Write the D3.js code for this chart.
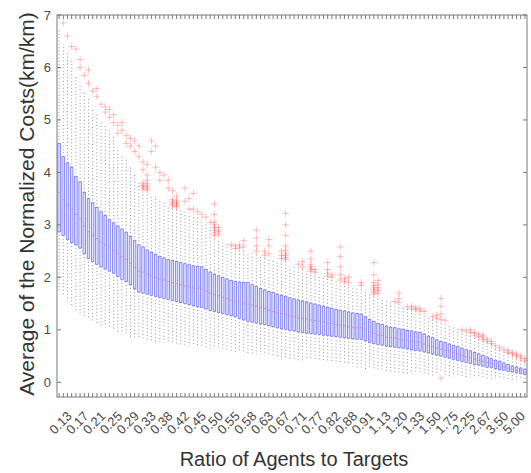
<!DOCTYPE html>
<html>
<head>
<meta charset="utf-8">
<script src="https://cdn.jsdelivr.net/npm/d3@7.9.0/dist/d3.min.js"></script>
<style>
  body { margin: 0; background: #fff; }
  svg { display: block; font-family: "Liberation Sans", Arial, sans-serif; }
</style>
</head>
<body>
<svg id="chart"></svg>
<script>
// tick labels shown under every 4th box
const ratioLabels = ["0.13","0.17","0.21","0.25","0.29","0.33","0.38","0.42","0.45","0.50",
  "0.55","0.58","0.63","0.67","0.71","0.77","0.82","0.88","0.91","1.13",
  "1.20","1.33","1.50","1.75","2.25","2.67","3.50","5.00"];
const yTicks = [0, 1, 2, 3, 4, 5, 6, 7];

// box statistics, one value per group (112 groups)
const q1 = [2.87,2.80,2.72,2.66,2.62,2.56,2.45,2.36,2.30,2.25,2.20,2.16,2.12,2.08,2.02,1.96,
  1.92,1.86,1.78,1.72,1.70,1.68,1.66,1.64,1.62,1.60,1.58,1.56,1.54,1.52,1.50,1.48,
  1.46,1.44,1.43,1.40,1.37,1.35,1.33,1.31,1.29,1.27,1.25,1.22,1.19,1.16,1.15,1.13,
  1.11,1.10,1.08,1.06,1.04,1.02,1.01,0.99,0.98,0.96,0.95,0.94,0.93,0.92,0.91,0.90,
  0.89,0.88,0.87,0.86,0.85,0.84,0.83,0.82,0.82,0.79,0.76,0.74,0.72,0.71,0.69,0.68,
  0.67,0.66,0.65,0.64,0.62,0.61,0.60,0.58,0.56,0.54,0.52,0.50,0.48,0.46,0.44,0.42,
  0.40,0.38,0.36,0.34,0.33,0.31,0.29,0.28,0.26,0.24,0.23,0.21,0.20,0.18,0.17,0.15];
const median = [3.62,3.48,3.38,3.30,3.20,3.12,2.98,2.87,2.80,2.74,2.67,2.62,2.56,2.51,2.45,2.39,
  2.34,2.27,2.19,2.12,2.10,2.06,2.03,2.00,1.97,1.95,1.92,1.90,1.88,1.86,1.84,1.82,
  1.80,1.79,1.78,1.74,1.70,1.67,1.65,1.62,1.60,1.57,1.55,1.53,1.51,1.49,1.47,1.45,
  1.42,1.40,1.37,1.35,1.33,1.31,1.29,1.27,1.25,1.23,1.22,1.21,1.19,1.18,1.16,1.15,
  1.13,1.12,1.10,1.09,1.08,1.06,1.05,1.04,1.04,1.00,0.96,0.93,0.90,0.89,0.86,0.85,
  0.84,0.82,0.81,0.80,0.78,0.77,0.76,0.73,0.70,0.68,0.65,0.63,0.61,0.58,0.56,0.54,
  0.51,0.49,0.47,0.44,0.42,0.40,0.38,0.36,0.33,0.31,0.29,0.27,0.25,0.23,0.22,0.19];
const q3 = [4.55,4.30,4.18,4.10,3.92,3.82,3.62,3.50,3.42,3.33,3.25,3.18,3.10,3.04,2.98,2.92,
  2.86,2.78,2.70,2.62,2.58,2.52,2.48,2.44,2.40,2.37,2.34,2.32,2.30,2.28,2.26,2.24,
  2.22,2.21,2.20,2.15,2.10,2.06,2.03,2.00,1.97,1.94,1.92,1.91,1.90,1.90,1.86,1.83,
  1.79,1.76,1.73,1.71,1.68,1.66,1.64,1.61,1.59,1.57,1.55,1.53,1.51,1.49,1.47,1.45,
  1.43,1.41,1.39,1.37,1.36,1.34,1.32,1.31,1.30,1.25,1.20,1.16,1.12,1.10,1.07,1.05,
  1.04,1.02,1.01,0.99,0.98,0.96,0.95,0.92,0.88,0.85,0.81,0.78,0.76,0.73,0.70,0.68,
  0.65,0.62,0.60,0.57,0.54,0.51,0.48,0.45,0.42,0.40,0.37,0.34,0.31,0.29,0.27,0.25];
const whiskerHigh = [6.75,6.45,6.30,6.15,5.85,5.70,5.55,5.40,5.20,5.10,5.00,4.90,4.80,4.72,4.45,4.35,
  4.25,4.10,3.95,3.80,3.62,3.60,3.58,3.55,3.50,3.45,3.38,3.32,3.30,3.28,3.25,3.22,
  3.20,3.17,3.12,3.05,2.95,2.75,2.74,2.72,2.68,2.60,2.50,2.50,2.50,2.48,2.46,2.44,
  2.42,2.38,2.36,2.34,2.32,2.30,2.30,2.25,2.22,2.19,2.15,2.12,2.08,2.06,2.04,2.02,
  1.98,1.96,1.94,1.90,1.88,1.86,1.84,1.82,1.80,1.75,1.70,1.65,1.62,1.58,1.55,1.52,
  1.50,1.48,1.46,1.42,1.38,1.36,1.33,1.30,1.26,1.22,1.18,1.16,1.12,1.08,1.05,1.02,
  0.98,0.95,0.92,0.88,0.84,0.80,0.76,0.72,0.68,0.64,0.60,0.56,0.52,0.48,0.44,0.40];
const whiskerLow = [1.72,1.65,1.55,1.45,1.35,1.28,1.25,1.22,1.18,1.12,1.08,1.05,1.02,1.00,0.95,0.92,
  0.88,0.86,0.84,0.82,0.82,0.80,0.79,0.78,0.76,0.75,0.74,0.72,0.72,0.70,0.70,0.69,
  0.68,0.67,0.66,0.65,0.64,0.63,0.62,0.61,0.60,0.59,0.58,0.57,0.56,0.55,0.54,0.53,
  0.52,0.51,0.50,0.49,0.48,0.47,0.46,0.45,0.44,0.43,0.42,0.42,0.41,0.41,0.40,0.40,
  0.39,0.38,0.38,0.36,0.34,0.32,0.30,0.28,0.26,0.25,0.24,0.23,0.22,0.21,0.20,0.19,
  0.18,0.18,0.17,0.16,0.16,0.15,0.15,0.14,0.14,0.13,0.13,0.20,0.12,0.11,0.11,0.10,
  0.10,0.09,0.09,0.08,0.08,0.07,0.07,0.06,0.06,0.06,0.05,0.05,0.05,0.04,0.04,0.04];

// outliers as [group, value]
const outliers = [
  [1,6.85],[2,6.6],[3,6.4],[4,6.35],[5,6.0],[5,6.15],[6,5.85],[7,5.95],[7,5.7],[8,5.55],
  [9,5.45],[9,5.6],[10,5.3],[11,5.15],[11,5.25],[12,5.2],[12,5.05],[13,4.95],[13,5.1],
  [14,4.9],[14,4.75],[15,4.95],[15,4.8],[16,4.7],[16,4.55],[17,4.65],[17,4.5],[18,4.6],
  [18,4.4],[19,4.5],[19,4.3],[20,4.2],[20,4.05],[21,4.15],[21,3.95],[22,4.6],[22,4.4],
  [23,4.5],[23,4.1],[24,4.0],[24,3.85],[25,3.95],[26,3.85],[26,3.7],
  [20,3.68],[20,3.72],[20,3.75],[20,3.8],[21,3.66],[21,3.7],[21,3.74],[21,3.78],[21,3.85],
  [27,3.36],[27,3.4],[27,3.44],[27,3.48],[28,3.35],[28,3.38],[28,3.42],[28,3.46],[28,3.55],[27,3.65],
  [30,3.7],[30,3.45],[31,3.5],[31,3.3],[32,3.6],[32,3.3],[33,3.25],[34,3.2],[35,3.15],[36,3.05],
  [37,2.8],[37,2.85],[37,2.9],[37,2.95],[37,3.0],[37,3.05],[37,3.2],[37,3.4],[38,2.82],[38,2.88],[38,2.95],
  [41,2.62],[42,2.55],[42,2.6],[43,2.56],[43,2.62],[44,2.58],[44,2.7],
  [47,2.5],[47,2.6],[47,2.75],[47,2.9],
  [49,2.42],[49,2.5],[50,2.45],[50,2.6],[50,2.72],
  [53,2.36],[53,2.42],[53,2.5],[54,2.34],[54,2.38],[54,2.42],[54,2.46],[54,2.52],[54,2.6],[54,2.8],[54,3.0],[54,3.22],
  [57,2.25],[58,2.2],[58,2.3],
  [60,2.12],[60,2.16],[60,2.2],[60,2.24],[61,2.1],[61,2.15],[60,2.35],[60,2.5],
  [64,2.02],[64,2.08],[64,2.15],[65,2.0],[65,2.05],[64,2.28],
  [67,1.95],[67,2.05],[67,2.2],[67,2.4],[67,2.58],[68,1.92],[68,1.98],[69,1.9],[69,2.0],
  [72,1.85],[72,1.9],
  [75,1.68],[75,1.72],[75,1.76],[75,1.8],[75,1.84],[75,1.9],[76,1.7],[76,1.75],[76,1.8],[76,1.86],[76,1.94],[75,2.05],[75,2.28],
  [80,1.54],[81,1.52],[81,1.6],[81,1.7],
  [83,1.44],[84,1.4],[84,1.45],[85,1.39],[85,1.42],[86,1.36],[86,1.4],[87,1.35],
  [89,1.25],[90,1.22],[90,1.28],[91,1.2],[91,1.3],[91,1.45],[91,1.6],[92,1.18],[91,0.08],
  [96,1.0],[97,0.98],[98,0.95],[98,1.0],[99,0.9],[99,0.95],[100,0.87],[100,0.92],[101,0.82],
  [101,0.86],[101,0.9],[102,0.78],[102,0.82],[103,0.74],[103,0.78],
  [104,0.7],[105,0.66],[106,0.62],[107,0.57],[107,0.6],[108,0.54],[108,0.56],[109,0.5],
  [109,0.53],[110,0.46],[110,0.5],[111,0.42],[111,0.45]
];

const width = 531;
const height = 473;
const plot = { left: 57, right: 527, top: 15, bottom: 397 };

const groups = d3.range(q1.length);

const svg = d3.select('#chart')
  .attr('width', width)
  .attr('height', height)
  .attr('viewBox', [0, 0, width, height]);

const x = d3.scaleBand()
  .domain(groups)
  .range([plot.left, plot.right])
  .padding(0);
const cx = i => x(i) + x.bandwidth() / 2;

const y = d3.scaleLinear()
  .domain([-0.28, 7])
  .range([plot.bottom, plot.top]);

const boxW = x.bandwidth() * 0.6;

// whiskers (dotted)
const whiskers = svg.append('g')
  .attr('stroke', '#222')
  .attr('stroke-width', 0.9)
  .attr('stroke-dasharray', '1,2.4')
  .attr('stroke-opacity', 0.55);

whiskers.selectAll('line.up')
  .data(groups)
  .join('line')
  .attr('class', 'up')
  .attr('x1', cx).attr('x2', cx)
  .attr('y1', i => y(q3[i])).attr('y2', i => y(whiskerHigh[i]));

whiskers.selectAll('line.down')
  .data(groups)
  .join('line')
  .attr('class', 'down')
  .attr('x1', cx).attr('x2', cx)
  .attr('y1', i => y(q1[i])).attr('y2', i => y(whiskerLow[i]));

// boxes
svg.append('g')
  .selectAll('rect')
  .data(groups)
  .join('rect')
  .attr('x', i => cx(i) - boxW / 2)
  .attr('width', boxW)
  .attr('y', i => y(q3[i]))
  .attr('height', i => y(q1[i]) - y(q3[i]))
  .attr('fill', '#dcdcfc')
  .attr('stroke', '#7070f4')
  .attr('stroke-width', 0.75);

// medians
svg.append('g')
  .selectAll('line')
  .data(groups)
  .join('line')
  .attr('x1', i => cx(i) - boxW / 2)
  .attr('x2', i => cx(i) + boxW / 2)
  .attr('y1', i => y(median[i]))
  .attr('y2', i => y(median[i]))
  .attr('stroke', '#d07aa8')
  .attr('stroke-width', 0.7);

// outliers (+ markers)
const s = 3.5;
svg.append('g')
  .attr('stroke', '#ff2a2a')
  .attr('stroke-width', 0.9)
  .attr('stroke-opacity', 0.32)
  .selectAll('path')
  .data(outliers)
  .join('path')
  .attr('d', d => {
    const px = cx(d[0]), py = y(d[1]);
    return `M${px - s},${py}H${px + s}M${px},${py - s}V${py + s}`;
  });

// frame and ticks
const axisColor = '#7a7a7a';
const frame = svg.append('g').attr('stroke', axisColor).attr('fill', 'none');

frame.append('rect')
  .attr('x', plot.left).attr('y', plot.top)
  .attr('width', plot.right - plot.left)
  .attr('height', plot.bottom - plot.top)
  .attr('stroke-width', 1);

frame.selectAll('line.xb')
  .data(groups)
  .join('line')
  .attr('class', 'xb')
  .attr('x1', cx).attr('x2', cx)
  .attr('y1', plot.bottom).attr('y2', plot.bottom - 4);

frame.selectAll('line.xt')
  .data(groups)
  .join('line')
  .attr('class', 'xt')
  .attr('x1', cx).attr('x2', cx)
  .attr('y1', plot.top).attr('y2', plot.top + 4);

frame.selectAll('line.yl')
  .data(yTicks)
  .join('line')
  .attr('class', 'yl')
  .attr('x1', plot.left).attr('x2', plot.left + 4)
  .attr('y1', d => y(d)).attr('y2', d => y(d));

frame.selectAll('line.yr')
  .data(yTicks)
  .join('line')
  .attr('class', 'yr')
  .attr('x1', plot.right).attr('x2', plot.right - 4)
  .attr('y1', d => y(d)).attr('y2', d => y(d));

// y tick labels
svg.append('g')
  .selectAll('text')
  .data(yTicks)
  .join('text')
  .attr('x', plot.left - 6)
  .attr('y', d => y(d))
  .attr('dy', '0.35em')
  .attr('text-anchor', 'end')
  .attr('font-size', 13)
  .attr('fill', '#4a4a4a')
  .text(d => d);

// x tick labels, every 4th group
svg.append('g')
  .selectAll('text')
  .data(ratioLabels)
  .join('text')
  .attr('transform', (d, k) => `translate(${cx(k * 4 + 3) + 1},417) rotate(-45)`)
  .attr('text-anchor', 'end')
  .attr('font-size', 13)
  .attr('fill', '#4a4a4a')
  .text(d => d);

// axis titles
svg.append('text')
  .attr('x', 294)
  .attr('y', 466)
  .attr('text-anchor', 'middle')
  .attr('font-size', 20)
  .attr('fill', '#333')
  .text('Ratio of Agents to Targets');

svg.append('text')
  .attr('transform', 'translate(34,204) rotate(-90)')
  .attr('text-anchor', 'middle')
  .attr('font-size', 21)
  .attr('fill', '#333')
  .text('Average of the Normalized Costs(km/km)');
</script>
</body>
</html>
